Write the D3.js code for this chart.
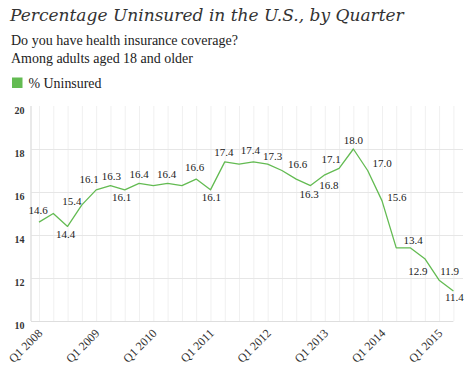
<!DOCTYPE html>
<html>
<head>
<meta charset="utf-8">
<script src="https://cdn.jsdelivr.net/npm/d3@7/dist/d3.min.js"></script>
<style>
  body { margin: 0; background: #fff; }
</style>
</head>
<body>
<svg id="chart" width="473" height="371"></svg>
<script>
// Data
const quarters = [
  "Q1 2008", "Q2 2008", "Q3 2008", "Q4 2008",
  "Q1 2009", "Q2 2009", "Q3 2009", "Q4 2009",
  "Q1 2010", "Q2 2010", "Q3 2010", "Q4 2010",
  "Q1 2011", "Q2 2011", "Q3 2011", "Q4 2011",
  "Q1 2012", "Q2 2012", "Q3 2012", "Q4 2012",
  "Q1 2013", "Q2 2013", "Q3 2013", "Q4 2013",
  "Q1 2014", "Q2 2014", "Q3 2014", "Q4 2014",
  "Q1 2015", "Q2 2015"
];
const uninsured = [
  14.6, 15.0, 14.4, 15.4,
  16.1, 16.3, 16.1, 16.4,
  16.3, 16.4, 16.3, 16.6,
  16.1, 17.4, 17.3, 17.4,
  17.3, 17.0, 16.6, 16.3,
  16.8, 17.1, 18.0, 17.0,
  15.6, 13.4, 13.4, 12.9,
  11.9, 11.4
];
const yTicks = [10, 12, 14, 16, 18, 20];
const xTickLabels = ["Q1 2008", "Q1 2009", "Q1 2010", "Q1 2011", "Q1 2012", "Q1 2013", "Q1 2014", "Q1 2015"];
const seriesName = "% Uninsured";

const green = "#63bb52";
const serif = "'Liberation Serif', 'Times New Roman', serif";
const wideSerif = "'DejaVu Serif', Georgia, serif";

const svg = d3.select("#chart");
const plot = { left: 31, right: 463, top: 106, bottom: 321 };

// Scales
const x = d3.scalePoint().domain(quarters).range([39, 453.4]);
const y = d3.scaleLinear().domain([10, 20]).range([plot.bottom, plot.top]);

// shrink/grow a text so it spans the wanted width
function fitText(sel, width) {
  const w = sel.node().getComputedTextLength();
  const fs = parseFloat(sel.attr("font-size"));
  sel.attr("font-size", (fs * width / w).toFixed(2));
}

// Title block
svg.append("text")
  .attr("x", 10).attr("y", 21)
  .attr("font-family", wideSerif).attr("font-style", "italic")
  .attr("font-size", 15).attr("fill", "#333")
  .text("Percentage Uninsured in the U.S., by Quarter")
  .call(fitText, 394);

svg.append("text")
  .attr("x", 11).attr("y", 45)
  .attr("font-family", serif).attr("font-size", 13).attr("fill", "#222")
  .text("Do you have health insurance coverage?")
  .call(fitText, 227);

svg.append("text")
  .attr("x", 11).attr("y", 62.5)
  .attr("font-family", serif).attr("font-size", 13).attr("fill", "#222")
  .text("Among adults aged 18 and older")
  .call(fitText, 182);

// Legend
svg.append("rect")
  .attr("x", 12).attr("y", 77.5).attr("width", 10.5).attr("height", 10.5)
  .attr("fill", green);
svg.append("text")
  .attr("x", 28.5).attr("y", 88)
  .attr("font-family", serif).attr("font-size", 12.5).attr("fill", "#222")
  .text(seriesName)
  .call(fitText, 73);

// Vertical gridlines, one per quarter
svg.append("g")
  .attr("transform", `translate(0,${plot.bottom})`)
  .call(d3.axisBottom(x).tickSize(-(plot.bottom - plot.top)).tickFormat(""))
  .call(g => g.select(".domain").remove())
  .call(g => g.selectAll(".tick line").attr("stroke", "#f0f0f0"));

// Y axis with horizontal gridlines
svg.append("g")
  .attr("transform", `translate(${plot.left},0)`)
  .call(d3.axisLeft(y).tickValues(yTicks).tickSize(-(plot.right - plot.left)).tickPadding(6.5))
  .call(g => g.select(".domain").remove())
  .call(g => g.selectAll(".tick line").attr("stroke", "#e6e6e6"))
  .call(g => g.selectAll(".tick").filter(d => d === 20).select("line").remove())
  .call(g => g.selectAll(".tick").filter(d => d === 10).select("line")
    .attr("x2", x(quarters[quarters.length - 1]) - plot.left).attr("stroke", "#dedede"))
  .call(g => g.selectAll(".tick text")
    .attr("dy", 7.5)
    .attr("font-family", serif).attr("font-size", 10).attr("font-weight", "bold")
    .attr("fill", "#333"));

// y axis line
svg.append("line")
  .attr("x1", plot.left).attr("x2", plot.left)
  .attr("y1", plot.top).attr("y2", plot.bottom)
  .attr("stroke", "#e2e2e2").attr("stroke-width", 1.5);

// X axis labels (rotated)
svg.append("g")
  .attr("transform", `translate(0,${plot.bottom})`)
  .call(d3.axisBottom(x).tickValues(xTickLabels).tickSize(0))
  .call(g => g.select(".domain").remove())
  .call(g => g.selectAll(".tick text")
    .attr("x", 0).attr("y", 0).attr("dy", 0)
    .attr("transform", "translate(3.7,13) rotate(-45)")
    .attr("text-anchor", "end")
    .attr("font-family", serif).attr("font-size", 12)
    .attr("fill", "#333"));

// The line
const line = d3.line()
  .x((d, i) => x(quarters[i]))
  .y(d => y(d));

svg.append("path")
  .datum(uninsured)
  .attr("d", line)
  .attr("fill", "none")
  .attr("stroke", green)
  .attr("stroke-width", 1.3)
  .attr("stroke-linejoin", "round");

// Data label placement (offset of label centre from point), as in the original
const labelOffset = {
  0: [-1, -12], 2: [-2, 8], 3: [-10, -4], 4: [-7, -11], 5: [1, -9.5],
  6: [-3, 7], 7: [0, -9], 9: [-1, -9], 11: [-1.5, -12], 12: [1, 7],
  13: [-1, -10], 15: [-3, -11.5], 16: [5, -8], 18: [1.5, -15], 19: [-1.5, 8.5],
  20: [4, 10], 21: [-8, -9], 22: [0, -9], 23: [14.5, -7], 24: [15, -3.5],
  26: [2.5, -8], 27: [-7, 12], 28: [10.5, -9], 29: [1, 6]
};

svg.append("g")
  .selectAll("text")
  .data(uninsured.map((v, i) => ({ v, i })).filter(d => labelOffset[d.i]))
  .join("text")
  .attr("x", d => x(quarters[d.i]) + labelOffset[d.i][0])
  .attr("y", d => y(d.v) + labelOffset[d.i][1])
  .attr("dy", "0.35em")
  .attr("text-anchor", "middle")
  .attr("font-family", serif).attr("font-size", 11)
  .attr("fill", "#222")
  .text(d => d.v.toFixed(1));
</script>
</body>
</html>
